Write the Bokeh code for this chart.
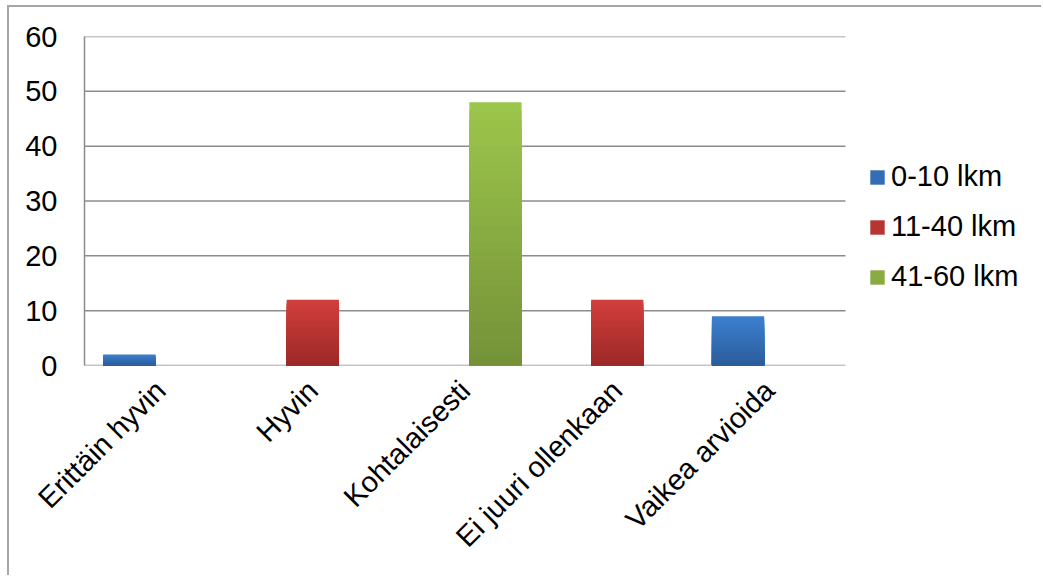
import numpy as np
from bokeh.plotting import figure
from bokeh.models import Range1d, FixedTicker, ColumnDataSource, Legend, LegendItem
from bokeh.embed import file_html
from bokeh.resources import INLINE

categories = ["Erittäin hyvin", "Hyvin", "Kohtalaisesti", "Ei juuri ollenkaan", "Vaikea arvioida"]
series_names = ["0-10 lkm", "11-40 lkm", "41-60 lkm"]
values_0_10 = [2, 0, 0, 0, 9]
values_11_40 = [0, 12, 0, 12, 0]
values_41_60 = [0, 0, 48, 0, 0]
y_ticks = [0, 10, 20, 30, 40, 50, 60]

series_values = [values_0_10, values_11_40, values_41_60]
offsets = [-0.206, 0.0, 0.2]
top_colors = [(60, 127, 207), (209, 63, 59), (156, 197, 75)]
bottom_colors = [(43, 93, 156), (156, 41, 39), (117, 146, 57)]

FONT = "Liberation Sans"
FS = "29px"

CANVAS_W = 1034
BORDER_L = 75
BORDER_R = 0
FRAME_W = CANVAS_W - BORDER_L - BORDER_R
CAT_PX = 152.2  # pixel width of one category slot
ncat = len(categories)
x_end = -0.5 + FRAME_W / CAT_PX

p = figure(x_range=Range1d(-0.5, x_end), y_range=Range1d(0, 60),
           width=CANVAS_W, height=570, output_backend="svg", toolbar_location=None,
           min_border_left=BORDER_L, min_border_right=BORDER_R, min_border_top=29, min_border_bottom=212)
p.styles = {"margin-left": "7px", "margin-top": "5px",
            "border-left": "2px solid #a6a6a6", "border-top": "2px solid #a6a6a6"}
p.outline_line_color = None
p.background_fill_color = "white"
p.border_fill_color = "white"
p.xgrid.grid_line_color = None
p.ygrid.grid_line_color = None

# horizontal gridlines limited to the category area
p.segment(x0=[-0.5] * len(y_ticks), x1=[ncat - 0.5] * len(y_ticks), y0=y_ticks, y1=y_ticks,
          line_color="#8c8c8c", line_width=1.5)

N = 30
legend_items = []
for si, (name, vals) in enumerate(zip(series_names, series_values)):
    xs, tops, cols = [], [], []
    for ci, v in enumerate(vals):
        if v <= 0:
            continue
        # painted from full (light) to smallest (dark) -> vertical gradient
        for k in range(N - 1, -1, -1):
            t = k / (N - 1)
            c = tuple(int(round(b + (tc - b) * t)) for b, tc in zip(bottom_colors[si], top_colors[si]))
            xs.append(ci + offsets[si])
            tops.append(v * (k + 1) / N)
            cols.append("#%02x%02x%02x" % c)
    src = ColumnDataSource(dict(x=xs, top=tops, color=cols))
    r = p.vbar(x="x", top="top", bottom=0, width=0.343,
               source=src, fill_color="color", line_color=None)
    legend_items.append(LegendItem(label=name, renderers=[r], index=N // 2))

p.yaxis.ticker = FixedTicker(ticks=y_ticks)
p.yaxis.axis_line_color = "#8c8c8c"
p.yaxis.axis_line_width = 1.5
p.yaxis.major_tick_line_color = None
p.yaxis.minor_tick_line_color = None
p.yaxis.major_tick_out = 0
p.yaxis.major_tick_in = 0
p.yaxis.major_label_standoff = 27
p.yaxis.major_label_text_font = FONT
p.yaxis.major_label_text_font_size = FS
p.yaxis.major_label_text_color = "black"

p.xaxis.ticker = FixedTicker(ticks=list(range(ncat)))
p.xaxis.major_label_overrides = {i: c for i, c in enumerate(categories)}
p.xaxis.axis_line_color = None
p.xaxis.major_tick_line_color = None
p.xaxis.minor_tick_line_color = None
p.xaxis.major_tick_out = 0
p.xaxis.major_tick_in = 0
p.xaxis.major_label_orientation = np.pi / 4
p.xaxis.major_label_standoff = 20
p.xaxis.major_label_text_font = FONT
p.xaxis.major_label_text_font_size = FS
p.xaxis.major_label_text_color = "black"

legend = Legend(items=legend_items, location=(784, 72), orientation="vertical",
                glyph_width=18, glyph_height=18, label_standoff=5, spacing=17,
                label_text_font=FONT, label_text_font_size=FS, label_text_color="black",
                border_line_color=None, background_fill_alpha=0, padding=0, margin=0)
p.add_layout(legend, "center")

open("out.html", "w").write(file_html(p, INLINE))
